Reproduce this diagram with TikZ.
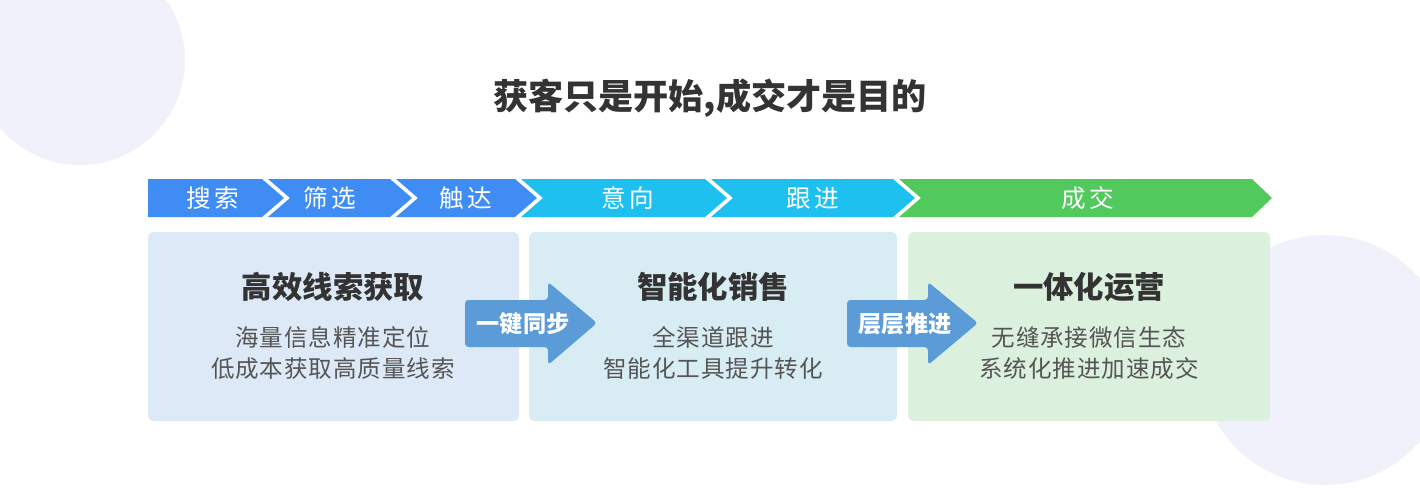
\documentclass[tikz,border=0pt]{standalone}
\usepackage{fontspec}
\setmainfont{Noto Sans CJK SC}
\usetikzlibrary{positioning}
\definecolor{chevblue}{HTML}{3F8CF5}
\definecolor{chevcyan}{HTML}{1EC0F0}
\definecolor{chevgreen}{HTML}{52C95C}
\definecolor{boxone}{HTML}{DDE9F6}
\definecolor{boxtwo}{HTML}{D8EDF3}
\definecolor{boxthree}{HTML}{DBF0DD}
\definecolor{pusharrow}{HTML}{5B9BD8}
\definecolor{darktext}{HTML}{333333}
\definecolor{softtext}{HTML}{555555}
\definecolor{haze}{HTML}{F1F1FB}
\begin{document}
\begin{tikzpicture}[x=0.02cm,y=-0.02cm,
        stage/.style={text=white, font=\fontsize{14}{16}\selectfont\addfontfeature{LetterSpace=12}},
        panel/.style={rounded corners=3pt, draw=none},
        headline/.style={text=darktext, font=\bfseries\fontsize{17.3}{20}\selectfont},
        detail/.style={text=softtext, font=\fontsize{13.4}{17.6}\selectfont\addfontfeature{LetterSpace=4}, align=center},
        pushlabel/.style={text=white, font=\bfseries\fontsize{13.2}{15}\selectfont},
        ]
        \useasboundingbox (0,0) rectangle (1420,497);
        % soft background circles
        \fill[haze] (80,60) circle (105);
        \fill[haze] (1325,360) circle (125);
        \node (title) at (710,98) [text=darktext, font=\bfseries\fontsize{20}{24}\selectfont] {获客只是开始,成交才是目的};

        % chevron bar
        \fill[chevblue] (148,179) -- (262,179) -- (284,198) -- (262,217) -- (148,217) -- cycle;
        \fill[chevblue] (268,179) -- (390,179) -- (412,198) -- (390,217) -- (268,217) -- (290,198) -- cycle;
        \fill[chevblue] (396,179) -- (515,179) -- (537,198) -- (515,217) -- (396,217) -- (418,198) -- cycle;
        \fill[chevcyan] (521,179) -- (705,179) -- (727,198) -- (705,217) -- (521,217) -- (543,198) -- cycle;
        \fill[chevcyan] (711,179) -- (893,179) -- (915,198) -- (893,217) -- (711,217) -- (733,198) -- cycle;
        \fill[chevgreen] (899,179) -- (1252,179) -- (1272,198) -- (1252,217) -- (899,217) -- (921,198) -- cycle;
        \node (search) at (213,198) [stage] {搜索};
        \node (filter) at (330,198) [stage] {筛选};
        \node (reach) at (466,198) [stage] {触达};
        \node (intent) at (628,198) [stage] {意向};
        \node (follow) at (813,198) [stage] {跟进};
        \node (deal) at (1088,198) [stage] {成交};

        % panels
        \fill[panel, boxone] (148,232) rectangle (519,421);
        \fill[panel, boxtwo] (529,232) rectangle (897,421);
        \fill[panel, boxthree] (908,232) rectangle (1270,421);
        \node (leads) at (333,287) [headline] {高效线索获取};
        \node (leadsinfo) at (333,353) [detail] {海量信息精准定位\\低成本获取高质量线索};
        \node (sales) at (713,287) [headline] {智能化销售};
        \node (salesinfo) at (713,353) [detail] {全渠道跟进\\智能化工具提升转化};
        \node (ops) at (1089,287) [headline] {一体化运营};
        \node (opsinfo) at (1089,353) [detail] {无缝承接微信生态\\系统化推进加速成交};

        % push arrows
        \fill[pusharrow, rounded corners=2pt] (465,300) -- (548,300) -- (548,282) -- (597,323) -- (548,365) -- (548,347) -- (465,347) -- cycle;
        \node (sync) at (523,324) [pushlabel] {一键同步};
        \fill[pusharrow, rounded corners=2pt] (847,300) -- (928,300) -- (928,282) -- (978,323) -- (928,365) -- (928,347) -- (847,347) -- cycle;
        \node (push) at (905,324) [pushlabel] {层层推进};
    \end{tikzpicture}
\end{document}
